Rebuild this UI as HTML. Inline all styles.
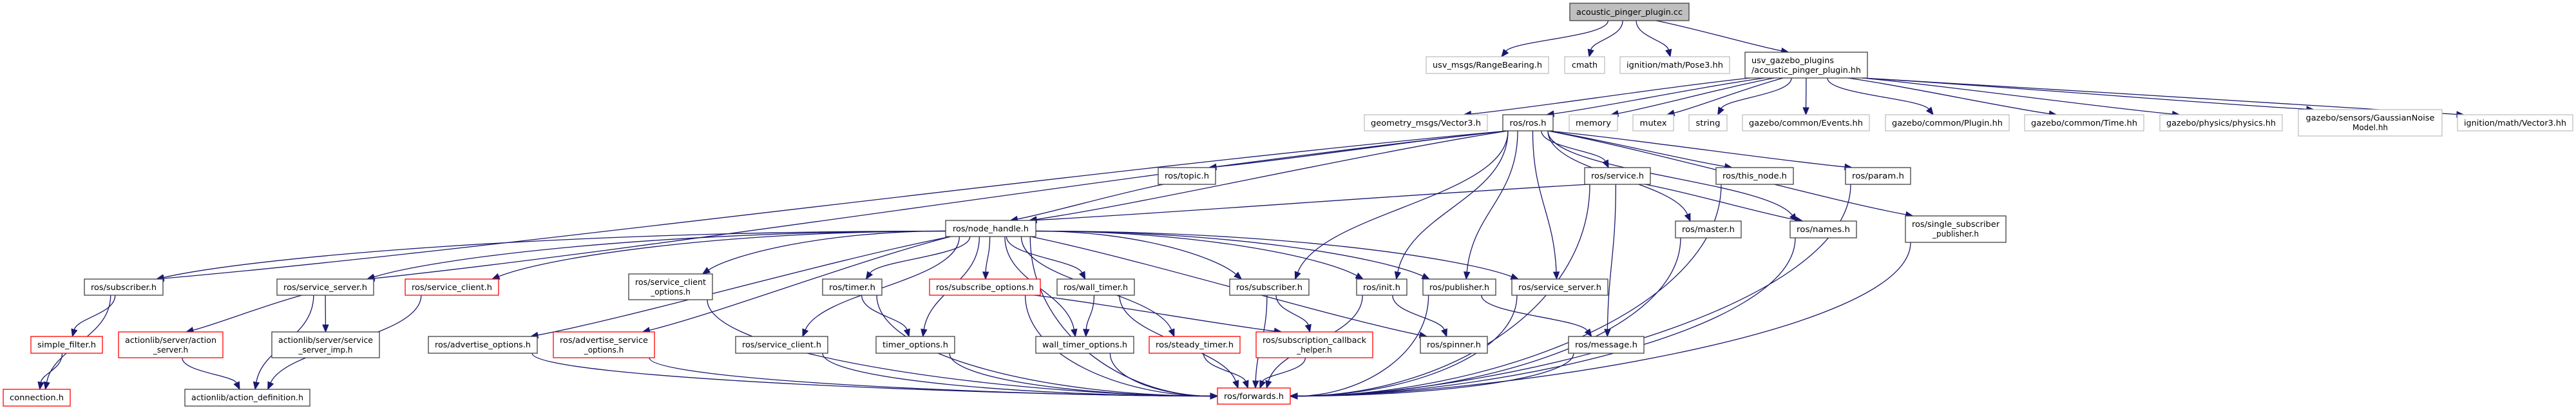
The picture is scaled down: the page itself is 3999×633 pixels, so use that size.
<!DOCTYPE html>
<html><head><meta charset="utf-8">
<style>
html,body{margin:0;padding:0;background:#fff;}
svg{display:block;}
text{font-family:"DejaVu Sans","Liberation Sans",sans-serif;font-size:12px;fill:#000;}
</style></head>
<body>
<svg id="g" xmlns="http://www.w3.org/2000/svg" width="3999" height="633" viewBox="0 0 3999 633">
<g id="edges"></g>
<g id="nodes" stroke-width="1.3">
<rect x="2437" y="5" width="185" height="27" fill="#bfbfbf" stroke="#404040"/>
<text x="2529.5" y="23" text-anchor="middle" textLength="165" lengthAdjust="spacingAndGlyphs">acoustic_pinger_plugin.cc</text>
<rect x="2214" y="88" width="190" height="26" fill="#fff" stroke="#bfbfbf"/>
<text x="2309" y="105" text-anchor="middle" textLength="170" lengthAdjust="spacingAndGlyphs">usv_msgs/RangeBearing.h</text>
<rect x="2429" y="88" width="62" height="26" fill="#fff" stroke="#bfbfbf"/>
<text x="2460" y="105" text-anchor="middle" textLength="40" lengthAdjust="spacingAndGlyphs">cmath</text>
<rect x="2515" y="88" width="170" height="26" fill="#fff" stroke="#bfbfbf"/>
<text x="2600" y="105" text-anchor="middle" textLength="150" lengthAdjust="spacingAndGlyphs">ignition/math/Pose3.hh</text>
<rect x="2709" y="81" width="190" height="40" fill="#fff" stroke="#404040"/>
<text x="2719" y="98" textLength="128" lengthAdjust="spacingAndGlyphs">usv_gazebo_plugins</text>
<text x="2719" y="113" textLength="170" lengthAdjust="spacingAndGlyphs">/acoustic_pinger_plugin.hh</text>

<rect x="2118" y="178" width="191" height="25" fill="#fff" stroke="#bfbfbf"/>
<text x="2213.5" y="195" text-anchor="middle" textLength="171" lengthAdjust="spacingAndGlyphs">geometry_msgs/Vector3.h</text>
<rect x="2333" y="178" width="78" height="25" fill="#fff" stroke="#404040"/>
<text x="2372" y="195" text-anchor="middle" textLength="57" lengthAdjust="spacingAndGlyphs">ros/ros.h</text>
<rect x="2436" y="178" width="75" height="25" fill="#fff" stroke="#bfbfbf"/>
<text x="2473.5" y="195" text-anchor="middle" textLength="55" lengthAdjust="spacingAndGlyphs">memory</text>
<rect x="2535" y="178" width="63" height="25" fill="#fff" stroke="#bfbfbf"/>
<text x="2566.5" y="195" text-anchor="middle" textLength="42" lengthAdjust="spacingAndGlyphs">mutex</text>
<rect x="2622" y="178" width="59" height="25" fill="#fff" stroke="#bfbfbf"/>
<text x="2651.5" y="195" text-anchor="middle" textLength="38" lengthAdjust="spacingAndGlyphs">string</text>
<rect x="2705" y="178" width="197" height="25" fill="#fff" stroke="#bfbfbf"/>
<text x="2803.5" y="195" text-anchor="middle" textLength="177" lengthAdjust="spacingAndGlyphs">gazebo/common/Events.hh</text>
<rect x="2927" y="178" width="192" height="25" fill="#fff" stroke="#bfbfbf"/>
<text x="3023" y="195" text-anchor="middle" textLength="172" lengthAdjust="spacingAndGlyphs">gazebo/common/Plugin.hh</text>
<rect x="3143" y="178" width="185" height="25" fill="#fff" stroke="#bfbfbf"/>
<text x="3235.5" y="195" text-anchor="middle" textLength="165" lengthAdjust="spacingAndGlyphs">gazebo/common/Time.hh</text>
<rect x="3353" y="178" width="190" height="25" fill="#fff" stroke="#bfbfbf"/>
<text x="3448" y="195" text-anchor="middle" textLength="170" lengthAdjust="spacingAndGlyphs">gazebo/physics/physics.hh</text>
<rect x="3568" y="170" width="223" height="41" fill="#fff" stroke="#bfbfbf"/>
<text x="3679.5" y="187" text-anchor="middle" textLength="200" lengthAdjust="spacingAndGlyphs">gazebo/sensors/GaussianNoise</text>
<text x="3679.5" y="202" text-anchor="middle">Model.hh</text>
<rect x="3815" y="178" width="179" height="25" fill="#fff" stroke="#bfbfbf"/>
<text x="3904.5" y="195" text-anchor="middle" textLength="159" lengthAdjust="spacingAndGlyphs">ignition/math/Vector3.hh</text>

<rect x="1798" y="260" width="89" height="26" fill="#fff" stroke="#404040"/>
<text x="1842.5" y="277" text-anchor="middle" textLength="69" lengthAdjust="spacingAndGlyphs">ros/topic.h</text>
<rect x="2460" y="260" width="102" height="26" fill="#fff" stroke="#404040"/>
<text x="2511" y="277" text-anchor="middle" textLength="82" lengthAdjust="spacingAndGlyphs">ros/service.h</text>
<rect x="2664" y="260" width="120" height="26" fill="#fff" stroke="#404040"/>
<text x="2724" y="277" text-anchor="middle" textLength="100" lengthAdjust="spacingAndGlyphs">ros/this_node.h</text>
<rect x="2865" y="260" width="101" height="26" fill="#fff" stroke="#404040"/>
<text x="2915.5" y="277" text-anchor="middle" textLength="81" lengthAdjust="spacingAndGlyphs">ros/param.h</text>

<rect x="1468" y="342" width="140" height="25" fill="#fff" stroke="#404040"/>
<text x="1538" y="359" text-anchor="middle" textLength="118" lengthAdjust="spacingAndGlyphs">ros/node_handle.h</text>
<rect x="2601" y="343" width="102" height="26" fill="#fff" stroke="#404040"/>
<text x="2652" y="360" text-anchor="middle" textLength="82" lengthAdjust="spacingAndGlyphs">ros/master.h</text>
<rect x="2779" y="343" width="103" height="26" fill="#fff" stroke="#404040"/>
<text x="2830.5" y="360" text-anchor="middle" textLength="83" lengthAdjust="spacingAndGlyphs">ros/names.h</text>
<rect x="2958" y="335" width="156" height="41" fill="#fff" stroke="#404040"/>
<text x="3036" y="352" text-anchor="middle" textLength="136" lengthAdjust="spacingAndGlyphs">ros/single_subscriber</text>
<text x="3036" y="367" text-anchor="middle">_publisher.h</text>

<rect x="131" y="433" width="122" height="25" fill="#fff" stroke="#404040"/>
<text x="192" y="450" text-anchor="middle" textLength="102" lengthAdjust="spacingAndGlyphs">ros/subscriber.h</text>
<rect x="430" y="433" width="150" height="25" fill="#fff" stroke="#404040"/>
<text x="505" y="450" text-anchor="middle" textLength="130" lengthAdjust="spacingAndGlyphs">ros/service_server.h</text>
<rect x="629" y="433" width="145" height="25" fill="#fff" stroke="#ff0000"/>
<text x="701.5" y="450" text-anchor="middle" textLength="125" lengthAdjust="spacingAndGlyphs">ros/service_client.h</text>
<rect x="976" y="425" width="130" height="40" fill="#fff" stroke="#404040"/>
<text x="1041" y="442" text-anchor="middle" textLength="110" lengthAdjust="spacingAndGlyphs">ros/service_client</text>
<text x="1041" y="457" text-anchor="middle">_options.h</text>
<rect x="1277" y="433" width="92" height="25" fill="#fff" stroke="#404040"/>
<text x="1323" y="450" text-anchor="middle" textLength="72" lengthAdjust="spacingAndGlyphs">ros/timer.h</text>
<rect x="1443" y="433" width="172" height="25" fill="#fff" stroke="#ff0000"/>
<text x="1529" y="450" text-anchor="middle" textLength="152" lengthAdjust="spacingAndGlyphs">ros/subscribe_options.h</text>
<rect x="1641" y="433" width="120" height="25" fill="#fff" stroke="#404040"/>
<text x="1701" y="450" text-anchor="middle" textLength="100" lengthAdjust="spacingAndGlyphs">ros/wall_timer.h</text>
<rect x="1909" y="433" width="123" height="25" fill="#fff" stroke="#404040"/>
<text x="1970.5" y="450" text-anchor="middle" textLength="103" lengthAdjust="spacingAndGlyphs">ros/subscriber.h</text>
<rect x="2106" y="433" width="78" height="25" fill="#fff" stroke="#404040"/>
<text x="2145" y="450" text-anchor="middle" textLength="58" lengthAdjust="spacingAndGlyphs">ros/init.h</text>
<rect x="2209" y="433" width="113" height="25" fill="#fff" stroke="#404040"/>
<text x="2265.5" y="450" text-anchor="middle" textLength="93" lengthAdjust="spacingAndGlyphs">ros/publisher.h</text>
<rect x="2347" y="433" width="149" height="25" fill="#fff" stroke="#404040"/>
<text x="2421.5" y="450" text-anchor="middle" textLength="129" lengthAdjust="spacingAndGlyphs">ros/service_server.h</text>

<rect x="48" y="522" width="111" height="26" fill="#fff" stroke="#ff0000"/>
<text x="103.5" y="539" text-anchor="middle" textLength="91" lengthAdjust="spacingAndGlyphs">simple_filter.h</text>
<rect x="184" y="515" width="162" height="40" fill="#fff" stroke="#ff0000"/>
<text x="265" y="532" text-anchor="middle" textLength="142" lengthAdjust="spacingAndGlyphs">actionlib/server/action</text>
<text x="265" y="547" text-anchor="middle">_server.h</text>
<rect x="422" y="515" width="167" height="40" fill="#fff" stroke="#404040"/>
<text x="505.5" y="532" text-anchor="middle" textLength="147" lengthAdjust="spacingAndGlyphs">actionlib/server/service</text>
<text x="505.5" y="547" text-anchor="middle">_server_imp.h</text>
<rect x="665" y="522" width="169" height="26" fill="#fff" stroke="#404040"/>
<text x="749.5" y="539" text-anchor="middle" textLength="149" lengthAdjust="spacingAndGlyphs">ros/advertise_options.h</text>
<rect x="859" y="515" width="157" height="40" fill="#fff" stroke="#ff0000"/>
<text x="937.5" y="532" text-anchor="middle" textLength="137" lengthAdjust="spacingAndGlyphs">ros/advertise_service</text>
<text x="937.5" y="547" text-anchor="middle">_options.h</text>
<rect x="1142" y="522" width="143" height="26" fill="#fff" stroke="#404040"/>
<text x="1213.5" y="539" text-anchor="middle" textLength="123" lengthAdjust="spacingAndGlyphs">ros/service_client.h</text>
<rect x="1360" y="522" width="122" height="26" fill="#fff" stroke="#404040"/>
<text x="1421" y="539" text-anchor="middle" textLength="102" lengthAdjust="spacingAndGlyphs">timer_options.h</text>
<rect x="1608" y="522" width="152" height="26" fill="#fff" stroke="#404040"/>
<text x="1684" y="539" text-anchor="middle" textLength="132" lengthAdjust="spacingAndGlyphs">wall_timer_options.h</text>
<rect x="1784" y="522" width="141" height="26" fill="#fff" stroke="#ff0000"/>
<text x="1854.5" y="539" text-anchor="middle" textLength="121" lengthAdjust="spacingAndGlyphs">ros/steady_timer.h</text>
<rect x="1950" y="515" width="181" height="40" fill="#fff" stroke="#ff0000"/>
<text x="2040.5" y="532" text-anchor="middle" textLength="161" lengthAdjust="spacingAndGlyphs">ros/subscription_callback</text>
<text x="2040.5" y="547" text-anchor="middle">_helper.h</text>
<rect x="2205" y="522" width="104" height="26" fill="#fff" stroke="#404040"/>
<text x="2257" y="539" text-anchor="middle" textLength="84" lengthAdjust="spacingAndGlyphs">ros/spinner.h</text>
<rect x="2435" y="522" width="117" height="26" fill="#fff" stroke="#404040"/>
<text x="2493.5" y="539" text-anchor="middle" textLength="97" lengthAdjust="spacingAndGlyphs">ros/message.h</text>

<rect x="5" y="604" width="104" height="26" fill="#fff" stroke="#ff0000"/>
<text x="57" y="621" text-anchor="middle" textLength="84" lengthAdjust="spacingAndGlyphs">connection.h</text>
<rect x="287" y="604" width="194" height="26" fill="#fff" stroke="#404040"/>
<text x="384" y="621" text-anchor="middle" textLength="174" lengthAdjust="spacingAndGlyphs">actionlib/action_definition.h</text>
<rect x="1890" y="602" width="113" height="25" fill="#fff" stroke="#ff0000"/>
<text x="1946.5" y="619" text-anchor="middle" textLength="93" lengthAdjust="spacingAndGlyphs">ros/forwards.h</text>
</g>
</svg>
<script>
(function(){
var N={
cc:[2437,5,2622,32],rb:[2214,88,2404,114],cm:[2429,88,2491,114],p3:[2515,88,2685,114],usv:[2709,81,2899,121],
gm:[2118,178,2309,203],ros:[2333,178,2411,203],mem:[2436,178,2511,203],mut:[2535,178,2598,203],str:[2622,178,2681,203],
ev:[2705,178,2902,203],pl:[2927,178,3119,203],tm:[3143,178,3328,203],ph:[3353,178,3543,203],gn:[3568,170,3791,211],v3:[3815,178,3994,203],
topic:[1798,260,1887,286],svc:[2460,260,2562,286],tn:[2664,260,2784,286],par:[2865,260,2966,286],
nh:[1468,342,1608,367],mas:[2601,343,2703,369],nam:[2779,343,2882,369],ssp:[2958,335,3114,376],
sub1:[131,433,253,458],ss1:[430,433,580,458],scr:[629,433,774,458],sco:[976,425,1106,465],tim:[1277,433,1369,458],
so:[1443,433,1615,458],wt:[1641,433,1761,458],sub2:[1909,433,2032,458],ini:[2106,433,2184,458],pub:[2209,433,2322,458],ss2:[2347,433,2496,458],
sf:[48,522,159,548],as:[184,515,346,555],ssi:[422,515,589,555],ao:[665,522,834,548],aso:[859,515,1016,555],sc:[1142,522,1285,548],
to:[1360,522,1482,548],wto:[1608,522,1760,548],st:[1784,522,1925,548],sch:[1950,515,2131,555],sp:[2205,522,2309,548],msg:[2435,522,2552,548],
con:[5,604,109,630],ad:[287,604,481,630],fw:[1890,602,2003,627]};
var E=[
['cc','rb'],['cc','cm'],['cc','p3'],['cc','usv'],
['usv','gm'],['usv','ros'],['usv','mem'],['usv','mut'],['usv','str'],['usv','ev'],['usv','pl'],['usv','tm'],['usv','ph'],['usv','gn'],['usv','v3'],
['ros','sub1'],['ros','ss1'],['ros','topic'],['ros','nh'],['ros','svc'],['ros','tn'],['ros','par'],['ros','mas'],['ros','nam'],['ros','ssp'],
['ros','sub2'],['ros','ini'],['ros','pub'],['ros','ss2'],
['topic','nh'],['svc','nh'],['svc','nam'],['svc','msg'],['svc','fw'],
['nh','sub1'],['nh','ss1'],['nh','scr'],['nh','sco'],['nh','ao'],['nh','aso'],['nh','sc'],['nh','tim'],['nh','to'],['nh','so'],['nh','wt'],
['nh','wto'],['nh','st'],['nh','sub2'],['nh','ini'],['nh','pub'],['nh','ss2'],['nh','sp'],['nh','fw'],
['sub1','con'],['sub1','sf'],['sf','con'],['ss1','as'],['ss1','ssi'],['ss1','ad'],['as','ad'],['scr','ad'],
['ao','fw'],['aso','fw'],['sco','fw'],['sc','fw'],['tim','to'],['tim','fw'],['to','fw'],['so','fw'],['so','sch'],['wt','wto'],['wt','fw'],['wto','fw'],
['st','fw'],['sub2','sch'],['sub2','fw'],['sch','fw'],['ini','sp'],['ini','fw'],['pub','msg'],['pub','fw'],['ss2','fw'],['mas','fw'],['nam','fw'],
['tn','fw'],['par','fw'],['ssp','fw'],['msg','fw']];
var g=document.getElementById('edges'),h='';
function cl(v,a,b){return Math.max(a,Math.min(b,v));}
E.forEach(function(e){
 var s=N[e[0]],t=N[e[1]];
 var scx=(s[0]+s[2])/2,tcx=(t[0]+t[2])/2,scy=(s[1]+s[3])/2;
 var dx=tcx-scx, gap=t[1]-s[3];
 var sx,sy,tx,ty,c1x,c1y,c2x,c2y;
 var sideOut = (e[0]=='nh' && gap<100 && Math.abs(dx) > 6*gap);
 var sideIn = (e[1]=='fw' && Math.abs(dx)>250);
 if(sideOut){ sx = dx<0?s[0]:s[2]; sy = scy+4; }
 else { sx=cl(scx+dx*0.15,s[0]+8,s[2]-8); sy=s[3]; }
 if(sideIn){ tx = dx>0?t[0]:t[2]; ty=(t[1]+t[3])/2; }
 else { tx=cl(tcx-dx*0.1,t[0]+10,t[2]-10); ty=t[1]; }
 var dy=ty-sy, ddx=tx-sx;
 var flat = !sideOut && !sideIn && Math.abs(ddx)>3*dy;
 if(sideOut){ c1x=sx+ddx*0.5; c1y=sy; c2x=tx-ddx*0.12; c2y=ty-dy*0.45; }
 else if(sideIn){ c1x=sx; c1y=sy+dy*0.6; c2x=tx+(dx>0?-1:1)*Math.min(300,Math.abs(ddx)*0.5); c2y=ty; }
 else if(flat){ c1x=sx+ddx*0.3; c1y=sy+dy*0.25; c2x=sx+ddx*0.75; c2y=sy+dy*0.8; }
 else { c1x=sx; c1y=sy+dy*0.45; c2x=tx-ddx*0.12; c2y=ty-dy*0.45; }
 var ax=tx-c2x,ay=ty-c2y,L=Math.sqrt(ax*ax+ay*ay)||1;ax/=L;ay/=L;
 var al=11,aw=4.5,bx=tx-ax*al,by=ty-ay*al;
 h+='<path d="M'+sx+','+sy+' C'+c1x+','+c1y+' '+c2x+','+c2y+' '+bx+','+by+'" fill="none" stroke="#191970" stroke-width="1.3"/>';
 h+='<polygon points="'+tx+','+ty+' '+(bx-ay*aw)+','+(by+ax*aw)+' '+(bx+ay*aw)+','+(by-ax*aw)+'" fill="#191970" stroke="#191970"/>';
});
g.innerHTML=h;
})();
</script>
</body></html>
